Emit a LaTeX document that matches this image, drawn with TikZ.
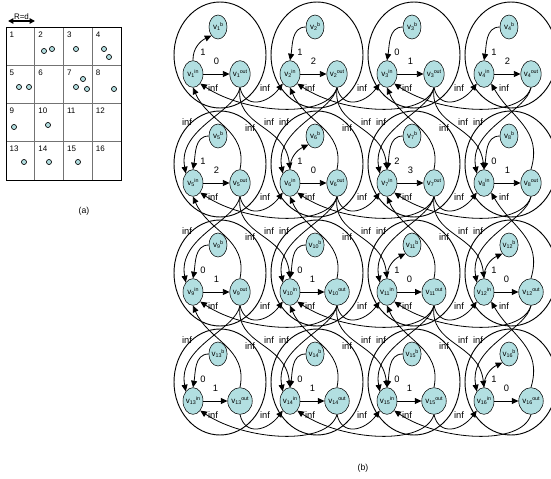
\documentclass[tikz,border=0pt]{standalone}
\usepackage{fontspec}
\setmainfont{Liberation Sans}
\usetikzlibrary{shapes.geometric,arrows.meta,backgrounds,calc}
\definecolor{nodecyan}{RGB}{178,223,225}
\newcommand{\vlab}[2]{v\raisebox{-0.8pt}{\fontsize{4}{4}\selectfont #1}\raisebox{2.2pt}{\fontsize{4}{4}\selectfont #2}}
\tikzset{
  vnode/.style={ellipse, draw, fill=nodecyan, inner sep=0pt, minimum width=15pt, minimum height=20pt, font=\fontsize{6}{6}\selectfont},
  bnode/.style={vnode, minimum width=13.5pt, minimum height=18pt},
  grp/.style={ellipse, draw, line width=0.7pt, minimum width=69pt, minimum height=79.5pt},
  flow/.style={-{Triangle[length=5pt,width=4.5pt]}, line width=0.6pt},
  lbl/.style={font=\fontsize{7}{8}\selectfont, inner sep=0.5pt},
  dot/.style={circle, draw, fill=nodecyan, inner sep=0pt, minimum size=3.8pt, line width=0.5pt},
  cellno/.style={font=\fontsize{6}{7}\selectfont, anchor=north west, inner sep=1pt},
}
\begin{document}
\begin{tikzpicture}[x=0.75pt, y=0.75pt]
\useasboundingbox (0,0) rectangle (551,-479);

% (a) the grid of cells
\foreach \k in {1,2,3}{
  \draw[black!55, line width=0.6pt] (6+28.75*\k,-27) -- (6+28.75*\k,-180);
  \draw[black!55, line width=0.6pt] (6,-27-38.25*\k) -- (121,-27-38.25*\k);
}
\draw[line width=0.6pt] (6,-27) rectangle (121,-180);
\foreach \n in {1,...,16}{
  \pgfmathtruncatemacro{\rw}{(\n-1)/4}
  \pgfmathtruncatemacro{\cl}{\n-1-4*\rw}
  \node[cellno] (n\n) at (6+28.75*\cl+2, -27-38.25*\rw-3) {\n};
}
\foreach \x/\y [count=\k] in {44/51, 52/49, 76/49, 104/49, 109/57, 19/87, 29/87, 76/87, 83/79, 87/89, 114/89, 14/127, 48/125, 24/162, 49/162, 78/162}
  \node[dot] (p\k) at (\x,-\y) {};
\coordinate (rl) at (8,-21);
\coordinate (rr) at (35,-21);
\draw[{Triangle[length=4pt,width=4pt]}-{Triangle[length=4pt,width=4pt]}, line width=1.1pt] (rl) -- (rr) node[midway, above=0pt, inner sep=0.5pt, font=\fontsize{6}{7}\selectfont] (rd) {R=d};
\node[font=\fontsize{6.5}{7}\selectfont] (capa) at (84,-211) {(a)};

% (b) one group per cell
\foreach \i/\wt/\sp/\dir in {1/0/1/u, 2/2/1/d, 3/1/0/d, 4/2/1/d, 5/2/1/d, 6/0/1/u, 7/3/2/d, 8/1/0/d, 9/1/0/d, 10/1/0/d, 11/0/1/u, 12/0/1/u, 13/1/0/d, 14/1/0/d, 15/1/0/d, 16/0/1/u}{
  \pgfmathtruncatemacro{\rw}{(\i-1)/4}
  \pgfmathtruncatemacro{\cl}{\i-1-4*\rw}
  \pgfmathsetmacro{\cx}{220+97*\cl}
  \pgfmathsetmacro{\cy}{-55-109*\rw}
  \node[grp] (g\i) at (\cx,\cy) {};
  \node[bnode] (b\i) at (\cx-2,\cy+28) {\vlab{\i}{b}};
  \node[vnode] (in\i) at (\cx-27,\cy-19) {\vlab{\i}{in}};
  \node[vnode] (out\i) at (\cx+20,\cy-19) {\vlab{\i}{out}};
  \draw[flow] (in\i) -- node[lbl, above=6pt] {\wt} (out\i);
  \if\dir u
    \draw[flow] (in\i.north) to[out=92, in=205] (b\i.south west);
  \else
    \draw[flow] (b\i.west) to[out=180, in=80] (in\i.north);
  \fi
  \node[lbl] (s\i) at (\cx-17,\cy+3) {\sp};
}
\node[font=\fontsize{6.5}{7}\selectfont] (capb) at (363,-468) {(b)};

\begin{scope}[on background layer]
% left and right neighbours
\foreach \i in {1,2,3,5,6,7,9,10,11,13,14,15}{
  \pgfmathtruncatemacro{\j}{\i+1}
  \draw[flow] (out\i.south) .. controls +(5,-22) and +(-15,-20) .. (in\j.south west)
    node[lbl] at ($(out\i)!0.5!(in\j)+(0,-14)$) {inf};
  \draw[flow] (out\j.south) .. controls +(-10,-32) and +(45,-30) .. (in\i.south east)
    node[lbl] at ($(in\i)+(20,-14)$) {inf};
}
% upper and lower neighbours
\foreach \i in {1,...,12}{
  \pgfmathtruncatemacro{\k}{\i+4}
  \draw[flow] (out\i.south) .. controls +(-5,-25) and +(-8,45) .. (in\k.north west)
    node[lbl] at ($(in\k)+(-6,61)$) {inf};
}
\foreach \i in {1,2,3,5,6,7,9,10,11}{
  \pgfmathtruncatemacro{\k}{\i+4}
  \draw[flow] (out\k.north) .. controls +(8,40) and +(15,-35) .. (in\i.south)
    node[lbl] at ($(out\k)+(10,55)$) {inf};
}
\foreach \i in {4,8,12}{
  \pgfmathtruncatemacro{\k}{\i+4}
  \draw[flow] (out\k.north) .. controls +(12,40) and +(20,-35) .. (in\i.south east)
    node[lbl] at ($(in\i)+(20,-14)$) {inf};
}
% diagonal neighbours
\foreach \i in {1,2,3,5,6,7,9,10,11}{
  \pgfmathtruncatemacro{\m}{\i+5}
  \draw[flow] (out\i.south) .. controls +(-5,-40) and +(-5,45) .. (in\m.north)
    node[lbl] at ($(in\m)+(-21,61)$) {inf};
}
\end{scope}
\end{tikzpicture}
\end{document}
